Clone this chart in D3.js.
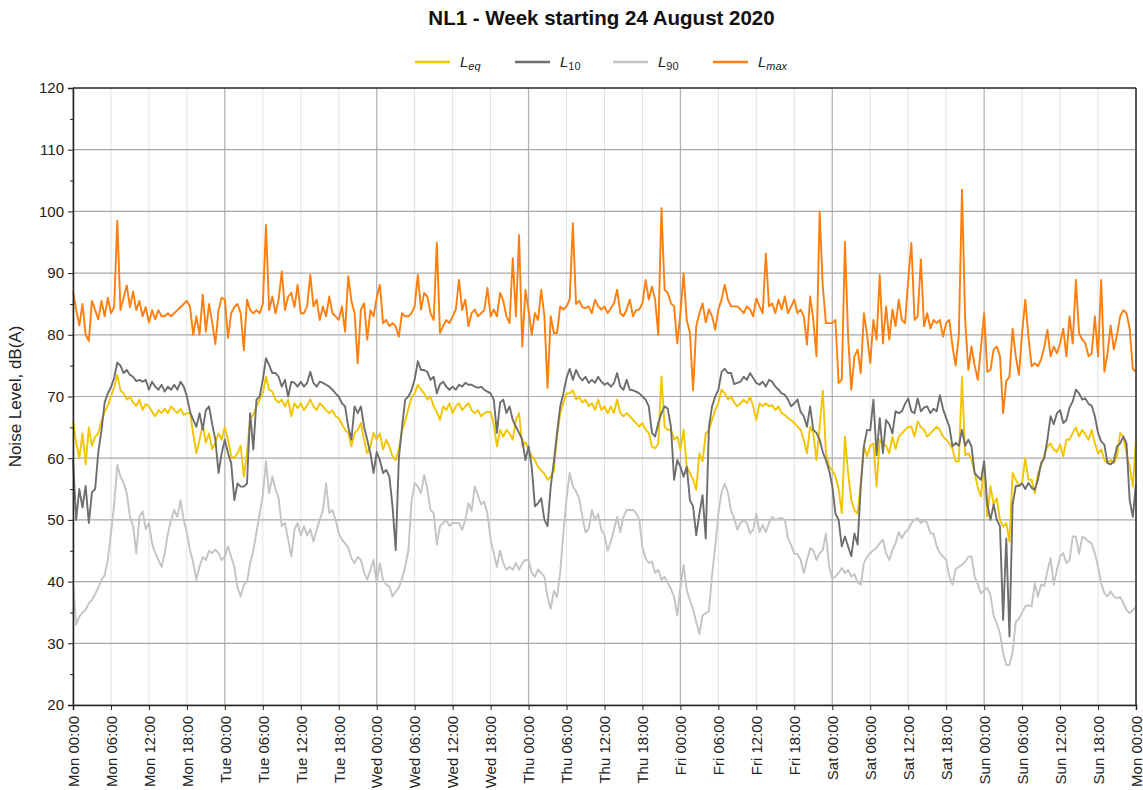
<!DOCTYPE html>
<html>
<head>
<meta charset="utf-8">
<script src="https://cdn.jsdelivr.net/npm/d3@7"></script>
<style>
  html, body { margin: 0; padding: 0; background: #fff; }
  svg { display: block; }
  text { font-family: "Liberation Sans", Arial, sans-serif; }
</style>
</head>
<body>
<svg id="chart" width="1143" height="790"></svg>
<script>
// ---------------- DATA (30-minute values, Mon 24 Aug 2020 00:00 -> Mon 31 Aug 00:00) ----------------
const startTime = "2020-08-24T00:00:00Z";
const stepMinutes = 30;

const leq = [
  66, 62.5, 60, 64, 59, 65, 62, 63.5, 64, 66, 67.5, 68.5, 70, 71.5, 73.5, 71, 70.5, 69.5, 70, 69, 68.5, 69.5, 67.8, 68.8, 68.4, 67.5, 66.8, 67.8, 67.3, 68, 67.3, 68.4, 67.8, 67.3, 68, 67, 67.3, 67.3, 64, 60.8, 63, 65.5, 62.5, 64, 61.5, 62.5, 64, 63,
  65, 63, 60.3, 60, 60.8, 62, 57, 61, 66.5, 67, 68.4, 69.5, 70.5, 73.2, 71.1, 70.8, 69.5, 69, 69.5, 68.4, 69.5, 66.8, 68.9, 68.1, 68.9, 67.8, 68.6, 69.5, 68.4, 67.8, 68.9, 68.4, 67.8, 67.3, 67.8, 66.8, 66.5, 65.5, 64.6, 64.1, 61.9, 64.1, 64.6, 65.7, 63, 60.8, 61.9, 64.1,
  63, 64, 61.4, 63, 61.9, 60.3, 59.7, 61.5, 64.5, 66, 68, 69.8, 70.5, 71.9, 71.1, 70.5, 69.5, 70, 68.4, 67.5, 66.2, 68.4, 67.8, 68.9, 67.3, 68.4, 68.9, 67.8, 68.4, 68.9, 67.8, 67.3, 67.8, 66.8, 67.3, 67.5, 67.5, 65.5, 61.9, 64.6, 63.5, 64.6, 64, 63, 66.2, 67.3, 61.9, 62.6,
  61.5, 60.3, 59.7, 58.6, 58, 57.5, 56.5, 57, 58, 63.5, 67.3, 69, 70.5, 70.5, 71, 69.5, 70, 69, 69.5, 68.4, 68.9, 67.8, 69.5, 67.8, 68.4, 67.3, 68.4, 67.3, 69.5, 67.3, 66.8, 67.3, 66.8, 66.2, 65.7, 65.1, 65.7, 64.6, 64.1, 61.9, 61.6, 62.4, 73.2, 65.1, 64.6, 64.6, 63, 63.5,
  61.4, 64.6, 58.6, 57.6, 56.5, 54.9, 60.8, 59.5, 64, 64.5, 66.2, 67.8, 69, 71.1, 70.5, 69.5, 70, 69, 68.4, 68.9, 69.5, 68.9, 70, 68.4, 66.2, 68.9, 68.4, 68.9, 68.4, 68.6, 67.8, 68.4, 67.3, 67, 66.5, 66.2, 65.7, 65.1, 64.6, 63, 60.8, 65.1, 64.1, 59.7, 65.1, 71, 60.8, 58.6,
  58.1, 57, 55, 51.1, 63.5, 57.6, 53.2, 51.6, 51, 56, 62, 60.3, 62, 62.4, 55.4, 63, 62.4, 62, 60.8, 63.5, 61.5, 63.5, 64, 64.6, 65.1, 65.1, 63.5, 66, 65, 64.6, 63.5, 64, 64.6, 65.1, 64.6, 63.5, 63, 62.4, 61.5, 59.5, 59.5, 73.2, 60.5, 60.8, 59.8, 57.6, 55.2, 53.8,
  59, 50.5, 55.5, 52.5, 53.5, 50, 48.9, 49.5, 46.5, 57.6, 56.5, 55.5, 56, 60, 56.5, 56.5, 54.3, 57.5, 58.8, 60.5, 61.9, 62.4, 61.4, 61, 62.2, 60.3, 63, 63, 64.1, 65, 63.5, 64.6, 63.8, 63, 64.6, 62.4, 60.8, 61.4, 59.7, 59.2, 59.7, 59.2, 60.3, 64.1, 63.5, 60.8, 58.6, 55.4,
  63
];

const l10 = [
  59.7, 50, 55, 52, 55.5, 49.5, 54.5, 55, 61, 64.5, 69, 70.5, 71.5, 73, 75.5, 75, 73.8, 74.3, 73.5, 73.2, 72.5, 72.7, 72.4, 72.7, 71.1, 72.4, 71.6, 71.1, 71.9, 70.8, 71.6, 71.1, 71.9, 71.1, 72.4, 71.6, 70, 67.5, 66.2, 65.1, 67.3, 64.6, 67.8, 68.4, 65.5, 63, 57.6, 60.8,
  63, 60.8, 59.2, 53.2, 55.9, 55.4, 55.4, 55.9, 67.3, 61.4, 69.5, 70, 72.7, 76.2, 75.1, 73.8, 73.8, 73.2, 71.6, 72.7, 70, 72.4, 72.2, 71.6, 72.4, 71.6, 72.2, 74, 72.2, 71.6, 72.4, 72.2, 71.9, 71.6, 71.1, 70.5, 70, 68.9, 68.4, 65.1, 63, 68.4, 67.3, 68.4, 65.1, 63, 60.8, 57.6,
  61, 59.7, 57.6, 58.1, 57, 52.2, 45.1, 60, 65, 69.5, 70, 71, 72.8, 75.7, 74.3, 74.3, 74, 72.7, 73.2, 70.5, 72, 72.4, 71.6, 71.1, 71.6, 71.1, 71.9, 71.6, 72.2, 71.9, 71.9, 71.6, 71.4, 71.6, 71.1, 70.8, 70.5, 69.5, 64.1, 69, 69.5, 67.3, 68.4, 66.2, 65.1, 64.1, 63, 59.7,
  61.9, 58.6, 52.2, 52.7, 53.5, 50, 49, 55.4, 59.5, 64.1, 68.4, 70.5, 73, 74.5, 72.7, 74.3, 73.2, 72.6, 73.2, 72.2, 72.7, 72.2, 73.2, 72.4, 71.9, 72.2, 71.6, 72.2, 73.8, 71.6, 71.1, 72.7, 71.1, 71, 70.8, 70.5, 70, 69.5, 68.4, 64.1, 63.5, 65.7, 67.3, 68.4, 68, 65.1, 56.5, 59.7,
  58.6, 57, 58.6, 53.2, 52.2, 47.5, 51, 54, 47, 65, 68.4, 70, 71.1, 74, 74.5, 73.8, 73.8, 72, 72.2, 72.4, 73.2, 72.7, 73.8, 73, 72.2, 71.9, 72.4, 71.6, 72.7, 72.4, 71.6, 71.1, 70.5, 70.3, 69.5, 68.4, 68.9, 69.5, 67.5, 66.8, 65.1, 68.4, 64.6, 64.1, 63, 61, 59.7, 58,
  55.5, 51, 50, 45.7, 47.3, 45.7, 44.1, 47.8, 46, 55.4, 62, 64.6, 64.5, 69.5, 60.5, 66.5, 60.8, 66.2, 65.5, 64, 67.6, 67.3, 67.6, 68.8, 69.7, 67.6, 67.3, 69.7, 67.6, 68.2, 68.4, 67.3, 68, 67.6, 70.2, 68, 66.5, 65.1, 61.9, 62.5, 62, 64.6, 62, 63, 61.9, 57.6, 57, 56.5,
  59.5, 52.5, 50, 52.5, 50, 49, 33.8, 47, 31.1, 52.5, 55.5, 55.5, 55.9, 55, 56, 55.2, 54.9, 56.5, 59.2, 60, 63, 66.8, 65.5, 67.3, 67.8, 65.7, 66.2, 68.2, 69.2, 71.1, 70.5, 69.5, 69.7, 68.8, 68.5, 66.8, 64.1, 62.7, 62.2, 59.2, 59, 59.5, 61.9, 62.4, 63.5, 62.4, 53.2, 50.5,
  55.9
];

const l90 = [
  39.7, 33, 34.3, 35, 35.4, 36.5, 37, 38, 39, 40.3, 41, 43.5, 47.8, 52.5, 58.9, 57, 56, 54.3, 50.5, 49, 44.6, 50.5, 51.4, 48.5, 49.5, 46.2, 44.6, 43.5, 42.4, 44.6, 47.8, 50, 51.6, 50.5, 53.2, 50, 47.8, 45.1, 43, 40.3, 42.4, 44, 43.5, 45, 44.6, 45.2, 44.6, 43.5,
  44.1, 45.7, 44, 42.4, 39, 37.6, 39.5, 40, 43, 45, 48, 51, 54, 59.5, 54.3, 57, 55, 53.5, 49, 49.5, 46.8, 44.1, 48.4, 49.5, 47.5, 49, 47.5, 48.5, 46.5, 48.4, 50, 51.6, 55.9, 51.1, 51.6, 50, 47.8, 46.8, 46.2, 45.5, 43.8, 43, 44, 43.5, 41.5, 40.3, 41.9, 43.5,
  39.7, 43, 40.3, 39.5, 39.2, 37.6, 38.4, 39, 40.5, 42.4, 45, 53, 56, 55.4, 54.3, 57.3, 55, 51.6, 51.1, 46, 49, 49.5, 50, 49, 49.5, 49.5, 49.5, 48.4, 50, 52.7, 51.5, 55.4, 54, 52.5, 53, 51, 46.8, 44.6, 42.4, 45, 43, 41.9, 42.4, 41.9, 43, 41.9, 43, 43.5,
  43.5, 41.4, 40.8, 42, 41.4, 40.8, 37.5, 35.6, 38.5, 37.5, 41.5, 48, 53.5, 57.6, 55.5, 54.6, 53.5, 50.5, 48, 48.5, 51.6, 50, 51, 48.4, 47.5, 45, 46.5, 48.4, 50.5, 48, 50.5, 51.6, 51.6, 51.6, 51.1, 50, 45.5, 43.8, 43, 43.3, 41.4, 41.9, 40.3, 40.8, 39.8, 38.8, 37.5, 34.5,
  39.2, 42.7, 38.6, 37, 35.5, 33.5, 31.5, 34.5, 34.9, 35.2, 41, 45.7, 51, 54.5, 55.9, 54.4, 51.5, 50.2, 48.4, 49.5, 50, 49.5, 47.8, 48.4, 51, 48, 49.2, 48, 49.5, 50.5, 50, 50.2, 50.3, 50, 47, 45.9, 44.5, 44.5, 43.5, 41.4, 43.5, 45.4, 45.1, 43.5, 44.6, 45.1, 47.8, 42.4,
  40.5, 40.8, 41.4, 42.2, 41.4, 41.9, 40.8, 41.2, 39.9, 39.5, 43, 44, 44.6, 45.1, 45.5, 46.2, 46.8, 44.6, 43.5, 45.1, 46.2, 48, 47, 48, 48.4, 49.5, 50, 50.3, 49.5, 50, 49.5, 47.8, 47.8, 45.7, 44.6, 44.1, 43.5, 40.8, 39.5, 42, 42.4, 42.7, 43.2, 44, 44.1, 40.8, 39.5, 38.1,
  38.6, 39, 37.8, 34.5, 33.2, 31.6, 28.4, 26.5, 26.5, 28.5, 33.5, 34, 35, 36, 36.2, 36, 39.7, 37.6, 39.5, 39.3, 41.7, 43.8, 39.5, 41.9, 44.1, 44.6, 43, 43.5, 47.3, 47.3, 44.5, 47.3, 47, 46.5, 46.2, 44.6, 42.4, 39.7, 38.1, 37.6, 38.4, 37.6, 37.3, 37.5, 36.5, 35.4, 34.9, 35.4,
  35.9
];

const lmax = [
  87, 84, 81.5, 85, 80, 79, 85.5, 84, 82.5, 85.5, 83, 86, 83.5, 84.5, 98.5, 84, 86, 88, 84.5, 87, 84, 85.5, 83, 84.5, 82, 84, 82.5, 84, 83, 83, 83.5, 83, 83.5, 84, 84.5, 85, 85.5, 84.5, 80, 83, 80, 86.5, 80.5, 85, 82, 78.5, 84, 86,
  85.7, 79.5, 83.5, 84.5, 85, 83.5, 77.5, 85.7, 84, 83.5, 84, 83.5, 85, 97.8, 84, 86.2, 83.5, 85.7, 90.3, 84, 86.2, 86.8, 84.5, 88.1, 83.5, 83.5, 84.6, 89.7, 84.6, 85.7, 82.4, 84.6, 83, 86.2, 83.5, 83, 82.4, 84.6, 80.5, 89.5, 85.5, 83.5, 75.4, 84.1, 85.1, 79.2, 84, 83,
  86, 88.1, 81.9, 82.4, 81.4, 81.9, 81.4, 79.7, 83.5, 83, 83, 83.5, 84.6, 89.7, 84.1, 86.8, 86.2, 83.5, 82.4, 94.9, 80.3, 81.4, 82.4, 81.9, 83, 84.1, 88.9, 84, 85.7, 81.4, 83.5, 84.1, 83, 83.5, 84, 87.6, 83, 84.1, 83, 86.8, 85.5, 83, 81.9, 92.4, 83, 96.2, 78.1, 87.3,
  84, 80, 83.5, 82.4, 87.3, 83, 71.4, 83, 80.3, 80.3, 84.6, 84.1, 84.6, 85.7, 98.1, 85, 85.5, 84.5, 84.3, 84.6, 83.5, 85.7, 84.6, 84.1, 84.6, 83.5, 84.3, 85.1, 87.3, 83.5, 83, 84.1, 85.7, 83, 84, 84.1, 85.1, 88.9, 85.7, 87.8, 85.7, 80, 100.5, 87.3, 86.8, 85.1, 84.6, 78.6,
  83.5, 90, 82.4, 80.3, 71, 81.4, 83.5, 85.1, 82, 84.1, 83, 80.8, 84.1, 85.7, 88.1, 85.7, 84.6, 84.6, 84.6, 84.1, 83.5, 84.6, 84.1, 83, 85.9, 84.6, 83.5, 93.2, 84.6, 85.1, 83.5, 85.7, 84.1, 86.2, 83.5, 84.6, 85.7, 83.5, 84.1, 83, 78.4, 86.2, 82.4, 76.5, 100, 87.8, 81.9, 81.9,
  81.9, 82.4, 72.2, 72.7, 95.1, 79.7, 71.1, 76.5, 77.6, 73.8, 83.5, 80, 75.4, 82.4, 79.2, 89.7, 78.6, 84.6, 79.2, 84.1, 81.4, 85.7, 82.4, 81.9, 88.9, 94.9, 82.4, 83, 92.2, 81.4, 83.5, 81, 82.4, 81.9, 82.4, 79.7, 81.9, 82.4, 78.1, 75, 80, 103.5, 82.4, 74.3, 78.1, 75, 72.7, 78,
  83.5, 74, 74.3, 77.6, 78.1, 76.5, 67.3, 72.5, 73.2, 81, 76.5, 73.5, 80.3, 85.7, 79.7, 74.9, 75.4, 74.9, 76, 78, 80.8, 76.5, 78.1, 77, 78.6, 81, 76.5, 83, 78.6, 88.9, 80.3, 79.2, 78.6, 76.5, 77, 83, 76.5, 88.9, 74, 77, 81.5, 77.6, 80, 83, 84, 83.5, 81, 74.5,
  74
];

const yTicks = [20, 30, 40, 50, 60, 70, 80, 90, 100, 110, 120];
const seriesNames = ["Leq", "L10", "L90", "Lmax"];
const seriesSubs = ["eq", "10", "90", "max"];
const titleText = "NL1 - Week starting 24 August 2020";
const yLabel = "Noise Level, dB(A)";

// ---------------- LAYOUT ----------------
const M = { left: 73, right: 1136, top: 88, bottom: 705 };
const colors = { Leq: "#f2c500", L10: "#6e6e6e", L90: "#c4c4c4", Lmax: "#ff7f0e" };

const svg = d3.select("#chart");
const t0 = new Date(startTime);
const times = leq.map((_, i) => new Date(t0.getTime() + i * stepMinutes * 60000));
const tEnd = times[times.length - 1];

const x = d3.scaleUtc().domain([t0, tEnd]).range([M.left, M.right]);
const y = d3.scaleLinear().domain([20, 120]).range([M.bottom, M.top]);

// vertical gridlines
const sixHour = d3.utcHour.every(6).range(t0, new Date(tEnd.getTime() + 1));
const dayTicks = d3.utcDay.range(t0, new Date(tEnd.getTime() + 1));
svg.append("g").selectAll("line").data(sixHour.filter(d => d.getUTCHours() !== 0)).join("line")
  .attr("x1", d => x(d)).attr("x2", d => x(d))
  .attr("y1", M.top).attr("y2", M.bottom)
  .attr("stroke", "#e3e3e3").attr("stroke-width", 1);
svg.append("g").selectAll("line").data(dayTicks).join("line")
  .attr("x1", d => x(d)).attr("x2", d => x(d))
  .attr("y1", M.top).attr("y2", M.bottom)
  .attr("stroke", "#b4b4b4").attr("stroke-width", 1.3);

// horizontal gridlines
svg.append("g").selectAll("line").data(yTicks).join("line")
  .attr("x1", M.left).attr("x2", M.right)
  .attr("y1", d => y(d)).attr("y2", d => y(d))
  .attr("stroke", "#a8a8a8").attr("stroke-width", 1.2);

// series lines
const line = d3.line().x((d, i) => x(times[i])).y(d => y(d));
const seriesData = { Leq: leq, L10: l10, L90: l90, Lmax: lmax };
const g = svg.append("g");
["Leq", "L10", "L90", "Lmax"].forEach(name => {
  g.append("path").datum(seriesData[name])
    .attr("fill", "none")
    .attr("stroke", colors[name])
    .attr("stroke-width", 1.9)
    .attr("stroke-linejoin", "round")
    .attr("d", line);
});

// frame (top & right)
svg.append("line").attr("x1", M.left).attr("x2", M.right).attr("y1", M.top).attr("y2", M.top)
  .attr("stroke", "#333").attr("stroke-width", 1.5);
svg.append("line").attr("x1", M.right).attr("x2", M.right).attr("y1", M.top).attr("y2", M.bottom)
  .attr("stroke", "#333").attr("stroke-width", 1.5);

// Y axis
const yAxis = d3.axisLeft(y).tickValues(yTicks).tickSize(5).tickPadding(4).tickFormat(d3.format("d"));
const yg = svg.append("g").attr("transform", `translate(${M.left},0)`).call(yAxis);
yg.select(".domain").attr("stroke", "#222").attr("stroke-width", 1.5);
yg.selectAll(".tick line").attr("stroke", "#222");
yg.selectAll(".tick text").attr("font-size", 15).attr("fill", "#222")
  .style("font-family", "'Liberation Sans', Arial, sans-serif");
// minor y ticks
const yMinor = d3.axisLeft(y).tickValues(d3.range(25, 120, 10)).tickSize(3).tickFormat("");
const ym = svg.append("g").attr("transform", `translate(${M.left},0)`).call(yMinor);
ym.select(".domain").remove();
ym.selectAll(".tick line").attr("stroke", "#222");

// X axis
const xAxis = d3.axisBottom(x).tickValues(sixHour).tickSize(5).tickFormat(d3.utcFormat("%a %H:%M"));
const xg = svg.append("g").attr("transform", `translate(0,${M.bottom})`).call(xAxis);
xg.select(".domain").attr("stroke", "#222").attr("stroke-width", 1.5);
xg.selectAll(".tick line").attr("stroke", "#222");
xg.selectAll(".tick text")
  .attr("font-size", 15).attr("fill", "#222")
  .style("font-family", "'Liberation Sans', Arial, sans-serif")
  .attr("text-anchor", "end")
  .attr("x", 0).attr("y", 0).attr("dy", "0.35em")
  .attr("transform", "translate(0,11) rotate(-90)");

// Y label
svg.append("text")
  .attr("transform", `translate(21,${(M.top + M.bottom) / 2}) rotate(-90)`)
  .attr("text-anchor", "middle")
  .attr("font-size", 17).attr("fill", "#222")
  .text(yLabel);

// Title
svg.append("text")
  .attr("x", (M.left + M.right) / 2 - 3).attr("y", 25)
  .attr("text-anchor", "middle")
  .attr("font-size", 20.5).attr("font-weight", "bold").attr("fill", "#111")
  .style("font-family", "'Liberation Sans Narrow', 'Liberation Sans', Arial, sans-serif")
  .text(titleText);

// Legend
const legendX = [415, 515, 613, 713];
const lg = svg.append("g");
seriesNames.forEach((name, i) => {
  lg.append("line").attr("x1", legendX[i]).attr("x2", legendX[i] + 35)
    .attr("y1", 62).attr("y2", 62).attr("stroke", colors[name]).attr("stroke-width", 2.5);
  const tx = lg.append("text").attr("x", legendX[i] + 45).attr("y", 67)
    .attr("font-size", 15).attr("fill", "#222");
  tx.append("tspan").attr("font-style", "italic").text("L");
  tx.append("tspan").attr("font-size", 11).attr("dy", 3)
    .attr("font-style", name === "L10" || name === "L90" ? "normal" : "italic")
    .text(seriesSubs[i]);
});
</script>
</body>
</html>
